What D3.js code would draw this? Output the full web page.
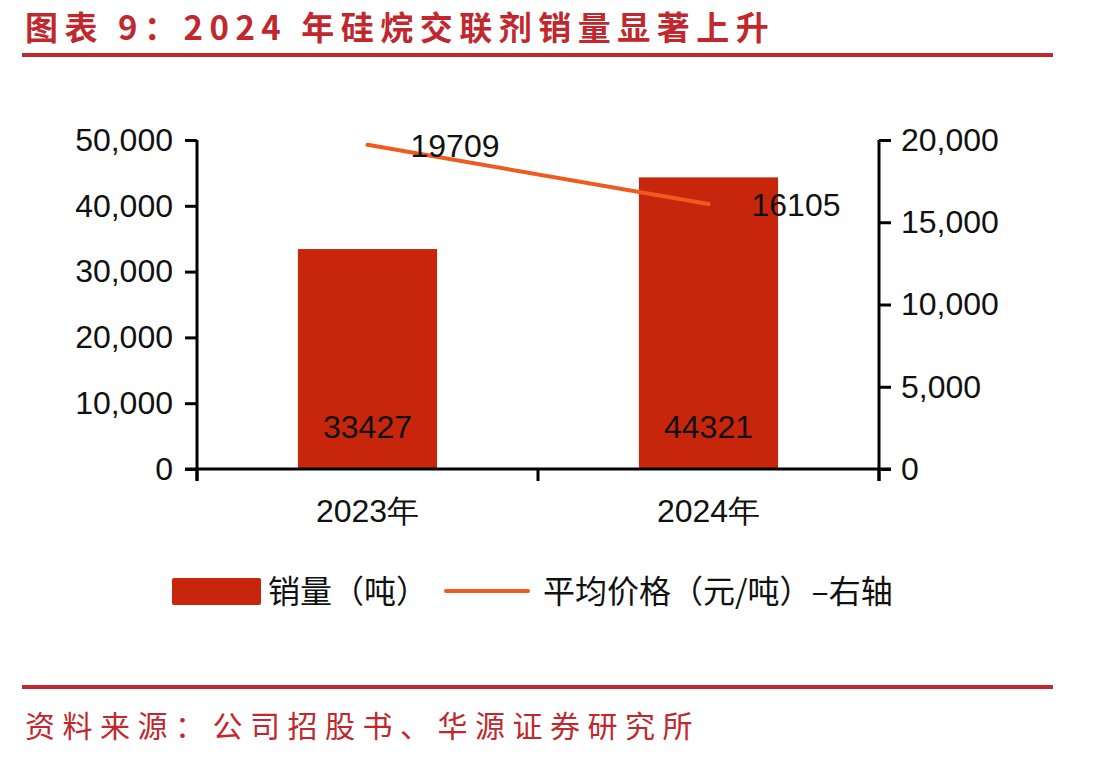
<!DOCTYPE html>
<html>
<head>
<meta charset="utf-8">
<script src="https://cdn.jsdelivr.net/npm/d3@7"></script>
<style>
  body { margin: 0; background: #fff; }
  svg { display: block; }
  .tick text { font-family: "Liberation Sans", Arial, sans-serif; }
</style>
</head>
<body>
<svg id="chart" width="1113" height="760"></svg>
<script>
// data
const years = ["2023年", "2024年"]
const sales = [33427, 44321]      // 销量（吨）, left axis
const prices = [19709, 16105]     // 平均价格（元/吨）, right axis
const leftTicks = [0, 10000, 20000, 30000, 40000, 50000]
const rightTicks = [0, 5000, 10000, 15000, 20000]

const red = "#c0282e"
const barColor = "#c8260c"
const lineColor = "#f05a1e"
const cjk = '"Noto Sans CJK SC", sans-serif'
const latin = '"Liberation Sans", Arial, sans-serif'

const svg = d3.select("#chart")

const plotL = 197, plotR = 879, plotT = 140, plotB = 469

const x = d3.scaleBand()
  .domain(years)
  .range([plotL, plotR])
  .paddingInner(0.592)
  .paddingOuter(0.296)

const yL = d3.scaleLinear().domain([0, 50000]).range([plotB, plotT])
const yR = d3.scaleLinear().domain([0, 20000]).range([plotB, plotT])

const fmt = d3.format(",")

// title + rules
svg.append("text")
  .attr("x", 25).attr("y", 40)
  .attr("fill", red)
  .style("font-family", cjk)
  .style("font-weight", "bold")
  .style("font-size", "33px")
  .style("letter-spacing", "6.5px")
  .text("图表 9：2024 年硅烷交联剂销量显著上升")

svg.append("rect")
  .attr("x", 22).attr("y", 53).attr("width", 1031).attr("height", 4)
  .attr("fill", red)

svg.append("rect")
  .attr("x", 22).attr("y", 685).attr("width", 1031).attr("height", 4)
  .attr("fill", red)

svg.append("text")
  .attr("x", 25).attr("y", 737)
  .attr("fill", red)
  .style("font-family", cjk)
  .style("font-size", "30px")
  .style("letter-spacing", "7.5px")
  .text("资料来源：公司招股书、华源证券研究所")

// bars
svg.selectAll("rect.bar")
  .data(years)
  .join("rect")
  .attr("class", "bar")
  .attr("x", d => x(d))
  .attr("width", x.bandwidth())
  .attr("y", (d, i) => yL(sales[i]))
  .attr("height", (d, i) => plotB - yL(sales[i]))
  .attr("fill", barColor)

svg.selectAll("text.barlabel")
  .data(years)
  .join("text")
  .attr("class", "barlabel")
  .attr("x", d => x(d) + x.bandwidth() / 2)
  .attr("y", plotB - 31)
  .attr("text-anchor", "middle")
  .style("font-family", latin)
  .style("font-size", "32px")
  .attr("fill", "#111")
  .text((d, i) => sales[i])

// axes
const axisL = svg.append("g")
  .attr("transform", `translate(${plotL},0)`)
  .call(d3.axisLeft(yL).tickValues(leftTicks).tickFormat(fmt).tickSize(12).tickPadding(12))
const axisR = svg.append("g")
  .attr("transform", `translate(${plotR},0)`)
  .call(d3.axisRight(yR).tickValues(rightTicks).tickFormat(fmt).tickSize(12).tickPadding(10))

;[axisL, axisR].forEach(g => {
  g.select(".domain").remove()
  g.selectAll(".tick line").attr("stroke", "#000").attr("stroke-width", 3)
  g.selectAll(".tick text")
    .attr("fill", "#111")
    .style("font-size", "32px")
})
svg.append("line")
  .attr("x1", plotL).attr("x2", plotL).attr("y1", plotT).attr("y2", plotB + 12)
  .attr("stroke", "#000").attr("stroke-width", 3)
svg.append("line")
  .attr("x1", plotR).attr("x2", plotR).attr("y1", plotT).attr("y2", plotB + 12)
  .attr("stroke", "#000").attr("stroke-width", 3)

// x axis with ticks at the band edges
svg.append("line")
  .attr("x1", plotL - 12).attr("x2", plotR + 12).attr("y1", plotB).attr("y2", plotB)
  .attr("stroke", "#000").attr("stroke-width", 3)
const edges = d3.range(years.length + 1).map(i => plotL + i * x.step())
svg.selectAll("line.xtick")
  .data(edges)
  .join("line")
  .attr("class", "xtick")
  .attr("x1", d => d).attr("x2", d => d)
  .attr("y1", plotB).attr("y2", plotB + 12)
  .attr("stroke", "#000").attr("stroke-width", 3)

svg.selectAll("text.xlabel")
  .data(years)
  .join("text")
  .attr("class", "xlabel")
  .attr("x", d => x(d) + x.bandwidth() / 2)
  .attr("y", 522)
  .attr("text-anchor", "middle")
  .style("font-family", latin)
  .style("font-size", "32px")
  .attr("fill", "#111")
  .text(d => d)

// price line on right axis
const line = d3.line()
  .x(d => x(d.year) + x.bandwidth() / 2)
  .y(d => yR(d.price))
const pts = years.map((year, i) => ({ year, price: prices[i] }))

svg.append("path")
  .datum(pts)
  .attr("d", line)
  .attr("fill", "none")
  .attr("stroke", lineColor)
  .attr("stroke-width", 4)
  .attr("stroke-linecap", "round")

svg.selectAll("text.linelabel")
  .data(pts)
  .join("text")
  .attr("class", "linelabel")
  .attr("x", d => x(d.year) + x.bandwidth() / 2 + 43)
  .attr("y", d => yR(d.price) + 12)
  .style("font-family", latin)
  .style("font-size", "32px")
  .attr("fill", "#111")
  .text(d => d.price)

// legend
const lg = svg.append("g")
lg.append("rect")
  .attr("x", 172).attr("y", 578).attr("width", 89).attr("height", 27)
  .attr("rx", 2)
  .attr("fill", barColor)
lg.append("text")
  .attr("x", 268).attr("y", 603)
  .style("font-family", cjk)
  .style("font-size", "32px")
  .attr("fill", "#111")
  .text("销量（吨）")
lg.append("line")
  .attr("x1", 446).attr("x2", 528).attr("y1", 591).attr("y2", 591)
  .attr("stroke", lineColor).attr("stroke-width", 4)
  .attr("stroke-linecap", "round")
lg.append("text")
  .attr("x", 543).attr("y", 603)
  .style("font-family", cjk)
  .style("font-size", "32px")
  .attr("fill", "#111")
  .text("平均价格（元/吨）–右轴")
</script>
</body>
</html>
